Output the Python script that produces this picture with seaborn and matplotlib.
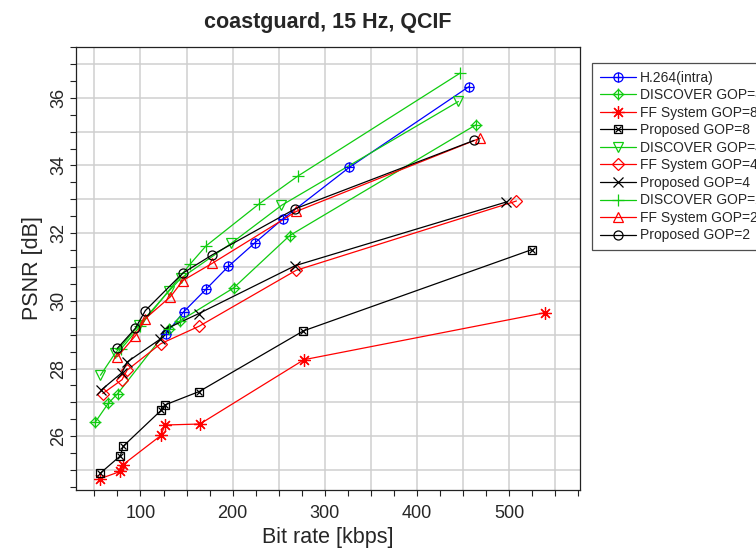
import numpy as np
import pandas as pd
import matplotlib
matplotlib.use("Agg")
import matplotlib.pyplot as plt
import seaborn as sns
from matplotlib.lines import Line2D
from matplotlib.legend_handler import HandlerTuple
from matplotlib.ticker import MultipleLocator, FuncFormatter

# ---------------- data ----------------
h264_x = [128, 147, 171, 195.5, 224, 254.5, 326.5, 456.5]
h264_y = [29.03, 29.68, 30.34, 31.02, 31.71, 32.42, 33.94, 36.33]

disc8_x = [51, 65, 75.3, 130.5, 142.5, 201, 262, 464]
disc8_y = [26.42, 26.97, 27.26, 29.18, 29.40, 30.38, 31.93, 35.20]

ff8_x = [55.8, 78.2, 81.1, 122.6, 126.2, 164.5, 277.4, 539.2]
ff8_y = [24.74, 24.96, 25.16, 26.03, 26.33, 26.36, 28.26, 29.65]

prop8_x = [56.5, 78.2, 81.1, 122.6, 126.2, 163.7, 276.7, 524.4]
prop8_y = [24.91, 25.42, 25.70, 26.77, 26.92, 27.32, 29.11, 31.51]

disc4_x = [56.5, 72.5, 98.5, 131, 144, 198.5, 253, 445]
disc4_y = [27.80, 28.45, 29.29, 30.29, 30.67, 31.70, 32.82, 35.89]

ff4_x = [59, 80, 85.4, 121.8, 163.7, 268.8, 508]
ff4_y = [27.26, 27.67, 27.95, 28.73, 29.25, 30.90, 32.95]

prop4_x = [57.6, 80, 85.4, 121.5, 127, 163, 268, 497]
prop4_y = [27.37, 27.88, 28.19, 28.87, 29.16, 29.62, 31.04, 32.92]

disc2_x = [79, 99.5, 154, 171, 229, 271, 447]
disc2_y = [28.58, 29.25, 31.09, 31.62, 32.87, 33.69, 36.73]

ff2_x = [75, 94.5, 105, 132.5, 146, 178, 269, 469]
ff2_y = [28.35, 28.97, 29.47, 30.12, 30.60, 31.11, 32.64, 34.81]

prop2_x = [75, 94.5, 105.2, 146, 178, 268, 462]
prop2_y = [28.60, 29.19, 29.71, 30.82, 31.36, 32.72, 34.74]

labels = ["H.264(intra)", "DISCOVER GOP=8", "FF System GOP=8", "Proposed GOP=8",
          "DISCOVER GOP=4", "FF System GOP=4", "Proposed GOP=4",
          "DISCOVER GOP=2", "FF System GOP=2", "Proposed GOP=2"]
xs = [h264_x, disc8_x, ff8_x, prop8_x, disc4_x, ff4_x, prop4_x, disc2_x, ff2_x, prop2_x]
ys = [h264_y, disc8_y, ff8_y, prop8_y, disc4_y, ff4_y, prop4_y, disc2_y, ff2_y, prop2_y]

BLUE, GREEN, RED, BLACK = "#0000FF", "#10CC10", "#FF0000", "#000000"
colors = [BLUE, GREEN, RED, BLACK, GREEN, RED, BLACK, GREEN, RED, BLACK]
# (primary marker, size, overlay marker, overlay size)
markers = [("o", 6.5, "+", 7), ("D", 5.5, "+", 8), ((8, 2, 0), 9, None, 0), ("s", 5.5, "x", 5),
           ("v", 7, None, 0), ("D", 6.5, None, 0), ("x", 6.5, None, 0),
           ("+", 9, None, 0), ("^", 7.5, None, 0), ("o", 6.5, None, 0)]

# ---------------- figure ----------------
sns.set_theme(style="white")
plt.rcParams["font.family"] = ["Liberation Sans", "DejaVu Sans"]

fig = plt.figure(figsize=(7.56, 5.53), dpi=100)
ax = fig.add_axes([76 / 756, 1 - 490 / 553, (580 - 76) / 756, (490 - 47) / 553])

handles = []
for lab, x, y, c, (m, ms, m2, ms2) in zip(labels, xs, ys, colors, markers):
    df = pd.DataFrame({"x": x, "y": y})
    sns.lineplot(data=df, x="x", y="y", ax=ax, color=c, lw=0.9, marker=m, markersize=ms,
                 markerfacecolor="none", markeredgecolor=c, markeredgewidth=0.9,
                 estimator=None, sort=False, legend=False, zorder=3)
    h1 = Line2D([], [], color=c, lw=0.9, marker=m, markersize=ms,
                markerfacecolor="none", markeredgecolor=c, markeredgewidth=0.9)
    if m2 is not None:
        sns.lineplot(data=df, x="x", y="y", ax=ax, color=c, linestyle="", marker=m2,
                     markersize=ms2, markeredgecolor=c, markeredgewidth=0.9,
                     estimator=None, sort=False, legend=False, zorder=4)
        h2 = Line2D([], [], color=c, lw=0, marker=m2, markersize=ms2,
                    markeredgecolor=c, markeredgewidth=0.9)
        handles.append((h1, h2))
    else:
        handles.append(h1)

ax.set_xlim(30, 577)
ax.set_ylim(24.41, 37.5)

ax.xaxis.set_major_locator(MultipleLocator(50))
ax.xaxis.set_minor_locator(MultipleLocator(25))
ax.yaxis.set_major_locator(MultipleLocator(1))
ax.yaxis.set_minor_locator(MultipleLocator(0.5))
ax.xaxis.set_major_formatter(FuncFormatter(lambda v, p: f"{int(round(v))}" if round(v) % 100 == 0 else ""))
ax.yaxis.set_major_formatter(FuncFormatter(lambda v, p: f"{int(round(v))}" if round(v) % 2 == 0 else ""))

ax.grid(True, which="major", color="#cfcfcf", lw=1.1)
ax.set_axisbelow(True)
ax.tick_params(axis="both", which="both", direction="out", length=4.5, width=0.8,
               color="#222222", labelsize=13, bottom=True, left=True, top=False, right=False)
ax.tick_params(axis="x", pad=6)
ax.tick_params(axis="y", pad=2)
for lbl in ax.get_yticklabels():
    lbl.set_rotation(90)
    lbl.set_va("center")
for s in ax.spines.values():
    s.set_color("#222222")
    s.set_linewidth(0.9)

ax.set_xlabel("Bit rate [kbps]", fontsize=15.5, labelpad=4)
ax.set_ylabel("PSNR [dB]", fontsize=15.5, labelpad=5)
ax.set_title("coastguard, 15 Hz, QCIF", fontsize=15.5, fontweight="bold", pad=14)

leg = ax.legend(handles, labels, loc="upper left", bbox_to_anchor=(1.024, 0.964),
                borderaxespad=0, fontsize=10, frameon=True, fancybox=False,
                handlelength=2.6, handletextpad=0.3, labelspacing=0.255, borderpad=0.55,
                numpoints=1, handler_map={tuple: HandlerTuple(ndivide=1)})
leg.get_frame().set_edgecolor("#222222")
leg.get_frame().set_linewidth(0.9)

fig.savefig("out.png", dpi=100)
